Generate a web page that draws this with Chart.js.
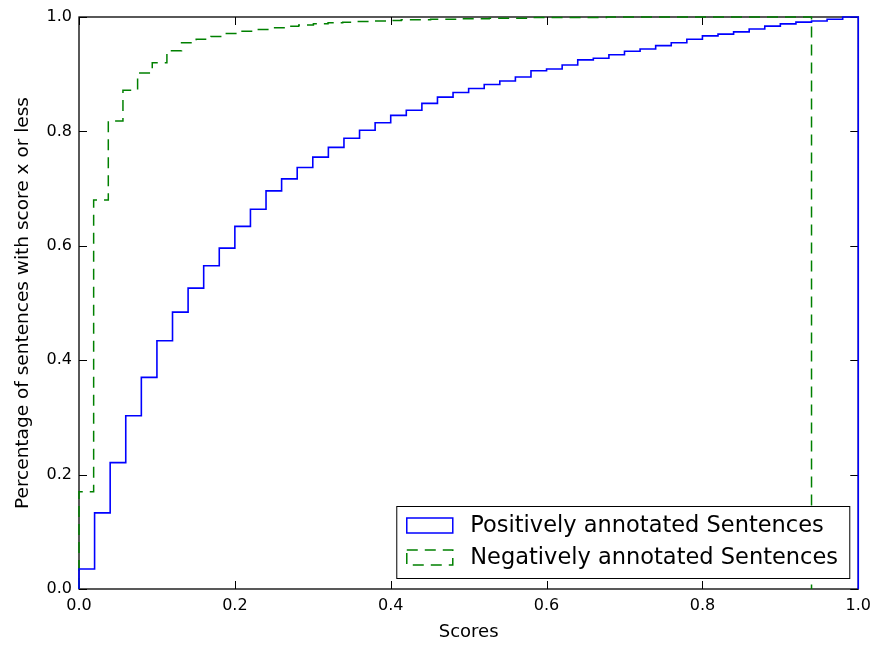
<!DOCTYPE html>
<html>
<head>
<meta charset="utf-8">
<script src="https://cdn.jsdelivr.net/npm/chart.js@4"></script>
<style>
  html, body { margin: 0; padding: 0; background: #fff; }
  canvas { display: block; }
</style>
</head>
<body>
<canvas id="cdfChart" width="878" height="645"></canvas>
<script>
// Cumulative share of sentences per score bin (histtype step, cumulative)
const posLabel = 'Positively annotated Sentences';
const negLabel = 'Negatively annotated Sentences';

// score range covered by each histogram (50 bins each)
const posRange = [0, 1];
const negRange = [0, 0.94];

const posCumulative = [
  0.035, 0.133, 0.221, 0.303, 0.370, 0.434, 0.484, 0.526, 0.565, 0.596,
  0.634, 0.664, 0.696, 0.717, 0.737, 0.755, 0.772, 0.788, 0.802, 0.815,
  0.828, 0.837, 0.849, 0.860, 0.868, 0.875, 0.882, 0.888, 0.895, 0.906,
  0.909, 0.916, 0.925, 0.928, 0.934, 0.940, 0.944, 0.950, 0.955, 0.961,
  0.967, 0.970, 0.974, 0.979, 0.984, 0.988, 0.991, 0.993, 0.996, 1.000
];
const negCumulative = [
  0.170, 0.680, 0.818, 0.872, 0.902, 0.920, 0.941, 0.955, 0.961, 0.966,
  0.971, 0.975, 0.978, 0.981, 0.984, 0.986, 0.988, 0.990, 0.991, 0.992,
  0.993, 0.994, 0.995, 0.995, 0.996, 0.996, 0.997, 0.997, 0.998, 0.998,
  0.998, 0.999, 0.999, 0.999, 0.999, 0.999, 1.000, 1.000, 1.000, 1.000,
  1.000, 1.000, 1.000, 1.000, 1.000, 1.000, 1.000, 1.000, 1.000, 1.000
];

const xTicks = [0, 0.2, 0.4, 0.6, 0.8, 1.0];
const yTicks = [0, 0.2, 0.4, 0.6, 0.8, 1.0];

const FONT = "'DejaVu Sans', 'Liberation Sans', sans-serif";

// closed step outline: up from 0 at the left edge, one level per bin, down to 0 at the right edge
function stepOutline(range, values) {
  const width = (range[1] - range[0]) / values.length;
  const pts = [{ x: range[0], y: 0 }];
  values.forEach((v, i) => pts.push({ x: range[0] + i * width, y: v }));
  pts.push({ x: range[1], y: values[values.length - 1] });
  pts.push({ x: range[1], y: 0 });
  return pts;
}

// black box around the plot with inward ticks on all four sides
const axesFrame = {
  id: 'axesFrame',
  beforeDatasetsDraw(chart) {
    const { ctx, chartArea: a, scales: { x, y } } = chart;
    const len = 8;
    ctx.save();
    ctx.strokeStyle = '#000';
    ctx.lineWidth = 1;
    ctx.beginPath();
    xTicks.forEach(v => {
      const px = Math.round(x.getPixelForValue(v)) + 0.5;
      ctx.moveTo(px, a.bottom); ctx.lineTo(px, a.bottom - len);
      ctx.moveTo(px, a.top); ctx.lineTo(px, a.top + len);
    });
    yTicks.forEach(v => {
      const py = Math.round(y.getPixelForValue(v)) + 0.5;
      ctx.moveTo(a.left, py); ctx.lineTo(a.left + len, py);
      ctx.moveTo(a.right, py); ctx.lineTo(a.right - len, py);
    });
    ctx.stroke();
    ctx.lineWidth = 1.3;
    ctx.strokeRect(a.left, a.top, a.right - a.left, a.bottom - a.top);
    ctx.restore();
  }
};

// legend box in the lower right corner, with outline patches as handles
const stepLegend = {
  id: 'stepLegend',
  afterDatasetsDraw(chart) {
    const { ctx, chartArea: a } = chart;
    const sets = chart.data.datasets;
    const rowH = 32;
    const boxW = 453, boxH = 72;
    const right = a.right - 9, bottom = a.bottom - 11;
    const left = right - boxW, top = bottom - boxH;
    ctx.save();
    ctx.fillStyle = '#fff';
    ctx.fillRect(left, top, boxW, boxH);
    ctx.strokeStyle = '#000';
    ctx.lineWidth = 1;
    ctx.strokeRect(left + 0.5, top + 0.5, boxW, boxH);
    ctx.font = '22.5px ' + FONT;
    ctx.textBaseline = 'middle';
    sets.forEach((ds, i) => {
      const cy = top + 19 + i * rowH;
      ctx.strokeStyle = ds.borderColor;
      ctx.lineWidth = 1.5;
      ctx.setLineDash(ds.borderDash || []);
      ctx.strokeRect(left + 10.5, cy - 7, 46, 15);
      ctx.setLineDash([]);
      ctx.fillStyle = '#000';
      ctx.fillText(ds.label, left + 74, cy + 1);
    });
    ctx.restore();
  }
};

new Chart(document.getElementById('cdfChart'), {
  type: 'line',
  data: {
    datasets: [
      {
        label: posLabel,
        data: stepOutline(posRange, posCumulative),
        borderColor: '#0000ff',
        borderWidth: 1.6,
        stepped: true,
        pointRadius: 0,
        fill: false,
        clip: 4
      },
      {
        label: negLabel,
        data: stepOutline(negRange, negCumulative),
        borderColor: '#008000',
        borderWidth: 1.5,
        borderDash: [11, 7],
        stepped: true,
        pointRadius: 0,
        fill: false,
        clip: 4
      }
    ]
  },
  options: {
    responsive: false,
    animation: false,
    layout: { padding: { left: 0, top: 17, right: 19, bottom: 0 } },
    plugins: { legend: { display: false }, tooltip: { enabled: false } },
    scales: {
      x: {
        type: 'linear',
        min: 0,
        max: 1,
        afterFit(s) { s.height = 56; },
        afterBuildTicks(s) { s.ticks = xTicks.map(v => ({ value: v })); },
        grid: { display: false, drawTicks: false },
        border: { display: false },
        ticks: {
          padding: 7,
          color: '#000',
          font: { family: FONT, size: 16 },
          callback: v => v.toFixed(1)
        },
        title: {
          display: true,
          text: 'Scores',
          color: '#000',
          font: { family: FONT, size: 18 },
          padding: { top: 0, bottom: 2 }
        }
      },
      y: {
        type: 'linear',
        min: 0,
        max: 1,
        afterFit(s) { s.width = 79; },
        afterBuildTicks(s) { s.ticks = yTicks.map(v => ({ value: v })); },
        grid: { display: false, drawTicks: false },
        border: { display: false },
        ticks: {
          padding: 7,
          color: '#000',
          font: { family: FONT, size: 16 },
          callback: v => v.toFixed(1)
        },
        title: {
          display: true,
          text: 'Percentage of sentences with score x or less',
          color: '#000',
          font: { family: FONT, size: 18.5 },
          padding: { top: 12, bottom: 0 }
        }
      }
    }
  },
  plugins: [axesFrame, stepLegend]
});
</script>
</body>
</html>
